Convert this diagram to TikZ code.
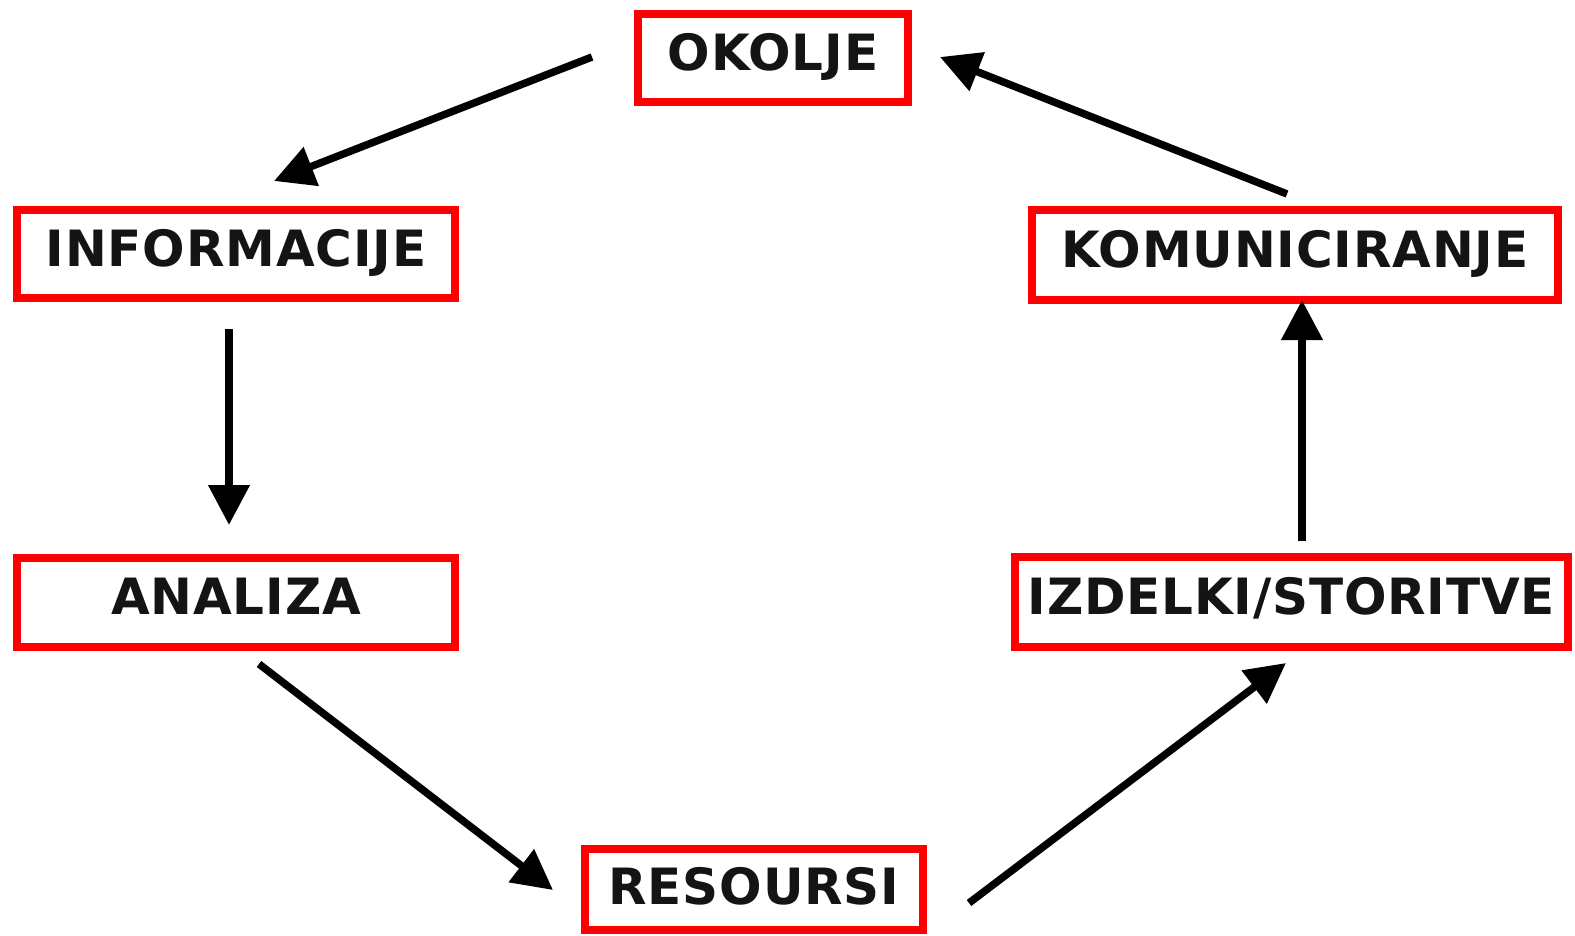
\documentclass[tikz,border=0pt]{standalone}
\usepackage{fontspec}
\newfontfamily\labelfont{DejaVu Sans}[LetterSpace=1.7]
\usetikzlibrary{arrows.meta}
\definecolor{boxred}{HTML}{FF0000}
\definecolor{labelgray}{HTML}{141414}
\tikzset{
  stagebox/.style={draw=boxred, line width=8pt, fill=white, inner sep=0pt,
    text height=37pt, text depth=12pt, text=labelgray,
    font=\labelfont\bfseries\fontsize{50}{60}\selectfont},
  flow/.style={draw=black, line width=7.5pt,
    -{Triangle[length=40pt, width=40pt]}}
}
\begin{document}
\begin{tikzpicture}[x=1pt, y=-1pt]
  \useasboundingbox (0,0) rectangle (1575,936);

  % stages of the cycle
  \node[stagebox, minimum width=270pt, minimum height=88pt] (okolje)   at (773,58)     {OKOLJE};
  \node[stagebox, minimum width=438pt, minimum height=88pt] (info)     at (236,254)    {INFORMACIJE};
  \node[stagebox, minimum width=438pt, minimum height=89pt] (analiza)  at (236,602)    {ANALIZA};
  \node[stagebox, minimum width=338pt, minimum height=81pt, text depth=8pt] (resursi) at (754,889.5) {RESOURSI};
  \node[stagebox, minimum width=553pt, minimum height=90pt] (izdelki)  at (1291.5,602) {IZDELKI/STORITVE};
  \node[stagebox, minimum width=526pt, minimum height=89pt] (komun)    at (1295,255)   {KOMUNICIRANJE};

  % free ends of the connectors, placed in the gaps between the stages
  \coordinate (okolje-out)  at (592,57);
  \coordinate (info-in)     at (274,181);
  \coordinate (info-out)    at (229,329);
  \coordinate (analiza-in)  at (229,525);
  \coordinate (analiza-out) at (259,664);
  \coordinate (resursi-in)  at (553,890);
  \coordinate (resursi-out) at (969,903);
  \coordinate (izdelki-in)  at (1286,663);
  \coordinate (izdelki-out) at (1302,541);
  \coordinate (komun-in)    at (1302,300);
  \coordinate (komun-out)   at (1287,194);
  \coordinate (okolje-in)   at (940,57);

  % the cycle
  \draw[flow] (okolje-out)  -- (info-in);
  \draw[flow] (info-out)    -- (analiza-in);
  \draw[flow] (analiza-out) -- (resursi-in);
  \draw[flow] (resursi-out) -- (izdelki-in);
  \draw[flow] (izdelki-out) -- (komun-in);
  \draw[flow] (komun-out)   -- (okolje-in);
\end{tikzpicture}
\end{document}
